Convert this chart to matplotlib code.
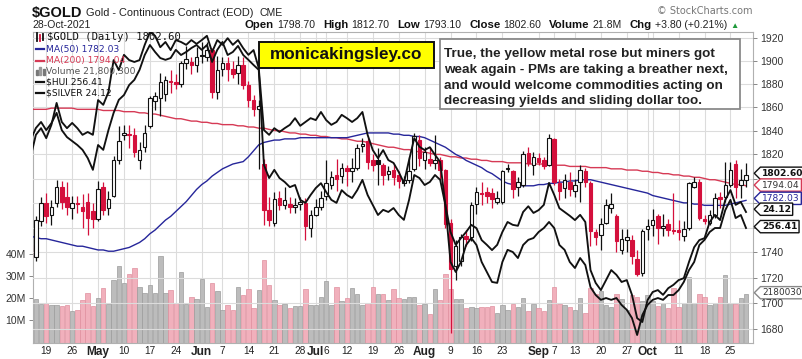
import numpy as np
import pandas as pd
import matplotlib
matplotlib.use("Agg")
import matplotlib.pyplot as plt
from matplotlib.path import Path
from matplotlib.lines import Line2D
from matplotlib.patches import Rectangle
from matplotlib.ticker import FixedLocator, NullLocator
import matplotlib.transforms as mtrans

plt.rcParams['font.family'] = ['Liberation Sans', 'DejaVu Sans']

# ---------------- data ----------------
holidays = ['2021-05-31', '2021-07-05', '2021-09-06']
dates = pd.bdate_range('2021-04-14', '2021-10-28')
dates = dates[~dates.isin(pd.to_datetime(holidays))]

prev_close0 = 1743.0

gold_open = [
    1746, 1736, 1765, 1780, 1770, 1780, 1793, 1785, 1776, 1780, 1777, 1781, 1773,
    1767, 1793, 1776, 1786, 1815, 1836, 1837, 1836, 1815, 1826, 1844, 1865, 1868, 1871, 1882, 1881, 1880, 1898, 1899, 1896,
    1905, 1903, 1909, 1873, 1893, 1898, 1893, 1889, 1896, 1879, 1866, 1858, 1812, 1774, 1764, 1784, 1778, 1779, 1777, 1779, 1780, 1760,
    1770, 1777, 1786, 1795, 1803, 1802, 1809, 1806, 1809, 1827, 1831, 1815, 1815, 1811, 1804, 1807, 1803, 1796, 1799, 1808, 1832,
    1815, 1816, 1813, 1815, 1807, 1764, 1729, 1733, 1753, 1752, 1779, 1788, 1789, 1788, 1781, 1781, 1808, 1806, 1793, 1795, 1821, 1811,
    1817, 1815, 1811, 1833, 1796, 1792, 1797, 1790, 1797, 1806, 1796, 1756, 1754, 1764, 1776, 1769, 1742, 1750, 1750, 1735, 1724,
    1759, 1762, 1769, 1760, 1763, 1758, 1758, 1753, 1760, 1793, 1797, 1767, 1764, 1770, 1785, 1785, 1795, 1812, 1795, 1798.7]
gold_high = [
    1748, 1769, 1785, 1788, 1782, 1799, 1798, 1797, 1786, 1786, 1787, 1788, 1780,
    1798, 1797, 1790, 1819, 1844, 1845, 1845, 1842, 1830, 1845, 1869, 1873, 1889, 1887, 1892, 1888, 1900, 1913, 1903, 1912,
    1916, 1916, 1911, 1904, 1903, 1903, 1900, 1904, 1903, 1882, 1870, 1866, 1816, 1785, 1789, 1790, 1793, 1785, 1784, 1785, 1784, 1774,
    1783, 1790, 1815, 1806, 1816, 1813, 1811, 1817, 1829, 1834, 1834, 1820, 1825, 1813, 1810, 1812, 1806, 1802, 1818, 1838, 1836,
    1826, 1826, 1836, 1818, 1808, 1767, 1750, 1755, 1758, 1781, 1793, 1797, 1793, 1792, 1790, 1807, 1812, 1807, 1801, 1823, 1826, 1822,
    1821, 1818, 1837, 1834, 1800, 1804, 1805, 1800, 1811, 1809, 1798, 1759, 1768, 1783, 1788, 1771, 1759, 1759, 1754, 1742, 1759,
    1767, 1775, 1771, 1771, 1767, 1788, 1766, 1765, 1797, 1801, 1800, 1770, 1774, 1788, 1789, 1814, 1814, 1815, 1808, 1812.7]
gold_low = [
    1733, 1733, 1761, 1764, 1762, 1777, 1775, 1770, 1767, 1772, 1760, 1754, 1760,
    1765, 1770, 1770, 1785, 1812, 1832, 1825, 1818, 1808, 1822, 1842, 1857, 1852, 1865, 1872, 1875, 1877, 1893, 1888, 1890,
    1898, 1900, 1868, 1867, 1887, 1882, 1885, 1880, 1875, 1860, 1852, 1808, 1762, 1761, 1761, 1774, 1775, 1772, 1772, 1774, 1750, 1752,
    1769, 1774, 1782, 1791, 1790, 1796, 1794, 1797, 1807, 1822, 1808, 1806, 1795, 1795, 1799, 1795, 1792, 1794, 1796, 1806, 1810,
    1808, 1810, 1808, 1800, 1760, 1677, 1718, 1729, 1745, 1749, 1771, 1778, 1780, 1776, 1779, 1779, 1805, 1784, 1786, 1793, 1810, 1803,
    1811, 1808, 1810, 1795, 1782, 1784, 1786, 1785, 1781, 1793, 1745, 1746, 1742, 1763, 1772, 1740, 1739, 1740, 1731, 1721, 1721,
    1750, 1753, 1747, 1753, 1753, 1755, 1750, 1749, 1758, 1792, 1766, 1763, 1762, 1768, 1776, 1781, 1793, 1784, 1784, 1793.1]
gold_close = [
    1736, 1766, 1780, 1769, 1777, 1793, 1781, 1777, 1780, 1779, 1773, 1768, 1767,
    1791, 1774, 1783, 1815, 1831, 1838, 1836, 1822, 1824, 1838, 1868, 1869, 1881, 1883, 1881, 1880, 1898, 1901, 1896, 1903,
    1904, 1909, 1873, 1892, 1898, 1893, 1888, 1896, 1879, 1866, 1858, 1861, 1774, 1766, 1783, 1778, 1782, 1777, 1778, 1781, 1761, 1770,
    1777, 1784, 1796, 1801, 1800, 1809, 1806, 1809, 1825, 1829, 1814, 1811, 1812, 1803, 1806, 1801, 1798, 1799, 1806, 1835, 1817,
    1822, 1813, 1815, 1807, 1763, 1727, 1745, 1752, 1751, 1778, 1789, 1787, 1786, 1783, 1784, 1806, 1809, 1791, 1797, 1820, 1813, 1818,
    1814, 1810, 1834, 1797, 1790, 1799, 1791, 1795, 1807, 1797, 1757, 1752, 1763, 1778, 1779, 1749, 1751, 1752, 1737, 1723, 1757,
    1761, 1766, 1760, 1761, 1758, 1757, 1756, 1759, 1796, 1797, 1768, 1765, 1770, 1784, 1783, 1795, 1807, 1793, 1798.8, 1802.6]

volume_m = [
    14.5, 19.5, 17.3, 18, 17, 17, 16.5, 17, 14, 14.5, 19, 22.5, 16.5,
    20, 24.5, 17.5, 28, 34.5, 27, 31, 33.5, 25, 22.5, 26, 22.5, 39, 22.5, 23.5, 18, 31.5, 17.5, 20.5, 19.5,
    28.5, 16, 27, 23, 14.5, 17, 14.5, 25, 21.5, 24, 15.5, 23.5, 37, 26, 19, 17, 17.5, 15.5, 16.5, 16.5, 24, 17,
    17, 20.5, 27.5, 17, 25, 18.5, 20, 24.5, 22, 17, 18, 25, 22, 22, 19, 24, 20, 19.5, 20.5, 20.5, 17,
    17.5, 13, 24, 19, 31, 24, 19.5, 19.5, 15.5, 16, 15.5, 16, 16, 16.5, 13.5, 17, 14.5, 17.5, 16, 20, 14, 17.5,
    15.5, 14, 19, 25, 17.5, 17, 16, 14.5, 20, 13.5, 24.5, 22, 23, 17, 16, 22, 19.5, 14.5, 21.5, 20.5, 18.5,
    21.5, 18.5, 16.5, 18, 15.5, 24.5, 16, 18, 29.5, 18, 22, 20.5, 17, 18, 20.5, 30.3, 18, 17.5, 20, 21.8003]

ma50 = [
    1753, 1752, 1751, 1751, 1750, 1749, 1748, 1747, 1746, 1745, 1745, 1744, 1743, 1742, 1742, 1741,
    1741, 1742, 1743, 1744, 1746, 1748, 1751, 1755, 1758, 1762, 1766, 1769, 1773, 1777, 1781, 1786, 1791, 1795, 1798, 1802,
    1805, 1808, 1810, 1812, 1813, 1814, 1818, 1823, 1828, 1830, 1831, 1832, 1832, 1833, 1833, 1833, 1834, 1834, 1834,
    1834, 1834, 1834, 1834, 1834, 1834, 1834, 1835, 1836, 1837, 1838, 1838, 1838, 1838, 1838, 1837, 1837, 1836, 1836, 1835, 1835, 1834,
    1832, 1830, 1828, 1826, 1823, 1820, 1818, 1815, 1813, 1811, 1809, 1806, 1804, 1801, 1798, 1796, 1795, 1794, 1794,
    1794, 1794, 1795, 1795, 1796, 1796, 1797, 1797, 1798, 1798, 1799, 1799, 1799, 1798, 1797, 1796, 1795, 1794, 1793, 1792, 1791, 1790,
    1789, 1788, 1786, 1785, 1784, 1783, 1782, 1781, 1780, 1780, 1779, 1779, 1778, 1778, 1778, 1778, 1778, 1779, 1780, 1781, 1782.03]
ma200 = [
    1858, 1858, 1858, 1858, 1859, 1859, 1859, 1859, 1859, 1858, 1858, 1858, 1858, 1858, 1857, 1857,
    1857, 1857, 1856, 1856, 1856, 1855, 1855, 1854, 1854, 1853, 1852, 1851, 1850, 1850, 1849, 1848, 1848, 1847, 1847, 1846,
    1846, 1845, 1845, 1845, 1844, 1844, 1843, 1843, 1842, 1842, 1841, 1840, 1840, 1839, 1838, 1838, 1837, 1837, 1836,
    1836, 1835, 1835, 1834, 1834, 1833, 1833, 1832, 1831, 1831, 1830, 1829, 1828, 1827, 1826, 1826, 1825, 1824, 1824, 1823, 1822, 1822,
    1821, 1820, 1820, 1819, 1818, 1818, 1817, 1817, 1816, 1816, 1815, 1815, 1814, 1814, 1814, 1813, 1813, 1813, 1813,
    1812, 1812, 1812, 1812, 1811, 1811, 1811, 1811, 1810, 1810, 1810, 1810, 1809, 1809, 1809, 1809, 1808, 1808, 1808, 1807, 1807, 1807,
    1806, 1806, 1805, 1805, 1804, 1804, 1803, 1803, 1802, 1802, 1801, 1801, 1800, 1799, 1799, 1798, 1797, 1796, 1795, 1795, 1794.04]

silver = [
    25.28, 25.74, 25.88, 25.67, 25.95, 26.41, 26.01, 25.88, 25.99, 25.88, 25.74, 25.80, 25.74,
    26.47, 26.37, 26.64, 27.31, 27.10, 27.42, 27.31, 27.27, 27.31, 27.63, 27.90, 27.82, 27.58, 27.69, 27.52, 27.73, 27.69, 27.63, 27.73, 27.65,
    27.73, 27.82, 27.48, 27.73, 27.63, 27.77, 27.63, 27.73, 27.56, 27.42, 27.52, 27.14, 25.84, 25.74, 25.88, 25.80, 25.88, 25.95, 26.09, 25.93, 26.01, 26.09,
    26.05, 26.22, 26.05, 25.95, 26.01, 26.16, 26.09, 26.01, 26.09, 26.22, 25.74, 25.42, 25.25, 25.42, 25.21, 25.15, 24.96, 24.73, 25.21, 25.67, 25.49,
    25.42, 25.48, 25.32, 25.17, 24.27, 23.70, 23.43, 23.57, 23.70, 23.85, 23.78, 23.53, 23.43, 23.32, 23.43, 23.70, 23.91, 23.85, 23.83, 24.12, 24.24, 24.10,
    24.16, 24.27, 24.73, 24.48, 24.20, 24.12, 24.04, 23.95, 24.06, 23.91, 22.90, 22.63, 22.48, 22.69, 22.90, 22.80, 22.65, 22.69, 22.38, 21.89, 21.81,
    22.27, 22.44, 22.48, 22.38, 22.52, 22.59, 22.69, 22.73, 23.07, 23.38, 23.53, 23.57, 23.91, 24.06, 23.95, 24.37, 24.58, 24.27, 24.33, 24.12]
hui = [
    285.5, 289.4, 291.4, 288.7, 291.0, 294.4, 288.7, 286.4, 285.1, 283.8, 282.2, 279.5, 275.6,
    283.8, 282.2, 288.7, 294.4, 298.7, 300.3, 303.6, 305.3, 308.6, 313.5, 316.8, 314.5, 312.5, 311.9, 312.5, 315.2, 313.5, 314.5, 315.8, 316.8,
    315.2, 316.8, 311.2, 315.2, 317.8, 313.5, 314.5, 316.5, 313.5, 311.9, 310.2, 308.6, 277.2, 272.9, 275.6, 272.9, 271.6, 269.9, 270.6, 265.7, 264.7, 267.3,
    269.6, 271.2, 268.3, 265.7, 264.7, 268.9, 267.3, 266.3, 268.9, 272.3, 267.3, 264.0, 260.7, 262.4, 261.7, 263.0, 260.7, 259.1, 265.7, 273.9, 272.9,
    270.6, 271.6, 273.9, 272.3, 264.0, 245.2, 241.9, 245.2, 250.8, 253.1, 250.8, 245.2, 241.9, 238.6, 238.3, 245.2, 249.2, 248.5, 246.5, 250.8, 252.5, 253.1,
    255.1, 256.4, 258.4, 256.4, 250.8, 249.2, 245.2, 243.2, 246.5, 244.2, 236.9, 234.3, 232.7, 233.3, 232.7, 233.3, 231.0, 229.4, 226.7, 221.1, 227.7,
    231.0, 232.7, 233.3, 232.7, 234.3, 234.3, 235.9, 238.6, 242.5, 245.2, 250.8, 252.5, 255.1, 256.4, 256.4, 262.3, 265.7, 259.7, 260.7, 256.41]

tick_days = ['2021-04-19', '2021-04-26', '2021-05-03', '2021-05-10', '2021-05-17', '2021-05-24',
             '2021-06-01', '2021-06-07', '2021-06-14', '2021-06-21', '2021-06-28', '2021-07-01',
             '2021-07-06', '2021-07-12', '2021-07-19', '2021-07-26', '2021-08-02', '2021-08-09',
             '2021-08-16', '2021-08-23', '2021-09-01', '2021-09-07', '2021-09-13', '2021-09-20',
             '2021-09-27', '2021-10-01', '2021-10-04', '2021-10-11', '2021-10-18', '2021-10-25']
tick_text = ['19', '26', 'May', '10', '17', '24', 'Jun', '7', '14', '21', '28', 'Jul', '6', '12',
             '19', '26', 'Aug', '9', '16', '23', 'Sep', '7', '13', '20', '27', 'Oct', '', '11', '18', '25']
month_names = {'May', 'Jun', 'Jul', 'Aug', 'Sep', 'Oct'}

price_ticks = [1680, 1700, 1720, 1740, 1760, 1780, 1800, 1820, 1840, 1860, 1880, 1900, 1920]
price_labels_shown = [1680, 1700, 1720, 1740, 1820, 1840, 1860, 1880, 1900, 1920]
volume_ticks = [10, 20, 30, 40]

note = ["True, the yellow metal rose but miners got",
        "weak again - PMs are taking a breather next,",
        "and would welcome commodities acting on",
        "decreasing yields and sliding dollar too."]

# ---------------- styling ----------------
W, H, DPI = 803, 359, 100
RED = '#d4103c'
BLACK = '#111111'
MA50_C = '#26269a'
MA200_C = '#d63a55'
PINK, PINK_E = '#f1b0bc', '#e0909f'
GREY, GREY_E = '#bcbcbc', '#9c9c9c'
GRID = '#dcdcdc'

n = len(dates)
for arr in (gold_open, gold_high, gold_low, gold_close, volume_m, ma50, ma200, silver, hui):
    assert len(arr) == n, (len(arr), n)

fig = plt.figure(figsize=(W / DPI, H / DPI), dpi=DPI)
fig.patch.set_facecolor('white')


def fx(x):
    return x / W


def fy(y):
    return 1 - y / H


rect = [fx(32.5), fy(342.7), (753 - 32.5) / W, (342.7 - 31.7) / H]
axv = fig.add_axes(rect)
ax = fig.add_axes(rect, sharex=axv)
axh = fig.add_axes(rect, sharex=axv)
axs = fig.add_axes(rect, sharex=axv)

x = np.arange(n)
o = np.asarray(gold_open, float)
hi = np.asarray(gold_high, float)
lo = np.asarray(gold_low, float)
c = np.asarray(gold_close, float)
prev = np.concatenate([[prev_close0], c[:-1]])
up = c >= prev
col = np.where(up, BLACK, RED)
face = np.where(c > o, 'white', col)

# volume
axv.bar(x, volume_m, width=0.86, color=np.where(up, GREY, PINK),
        edgecolor=np.where(up, GREY_E, PINK_E), linewidth=0.5, zorder=2)
axv.set_ylim(0, 139.5)
axv.set_xlim(0.35, n + 0.35)
axv.set_yticks(volume_ticks)
axv.set_yticklabels([f'{v}M' for v in volume_ticks])
axv.tick_params(axis='y', length=3, width=0.7, color='#888', pad=2, labelsize=7.5, labelcolor='#333')
kpos = [dates.get_loc(pd.Timestamp(d)) for d in tick_days]
axv.set_xticks(kpos)
axv.set_xticklabels(tick_text)
axv.tick_params(axis='x', length=0, pad=2.5, labelsize=7.3, labelcolor='#222')
for lab in axv.get_xticklabels():
    if lab.get_text() in month_names:
        lab.set_fontweight('bold')
        lab.set_fontsize(8.6)
axv.grid(axis='x', color=GRID, lw=0.8)
axv.set_axisbelow(True)
for sp in axv.spines.values():
    sp.set_color('#b0b0b0')
    sp.set_linewidth(0.8)

# price
ax.patch.set_visible(False)
ax.set_yscale('log')
ax.set_ylim(1669.5, 1925.3)
ax.yaxis.set_major_locator(FixedLocator(price_ticks))
ax.yaxis.set_minor_locator(NullLocator())
ax.set_yticklabels([str(p) if p in price_labels_shown else '' for p in price_ticks])
ax.yaxis.tick_right()
ax.tick_params(axis='y', which='both', length=3, width=0.7, color='#888', pad=2,
               labelsize=7.5, labelcolor='#333')
ax.tick_params(axis='x', bottom=False, labelbottom=False)
ax.grid(axis='y', color=GRID, lw=0.8)
ax.set_axisbelow(True)
for sp in ax.spines.values():
    sp.set_visible(False)

ax.plot(x, ma200, color=MA200_C, lw=1.0, zorder=2)
ax.plot(x, ma50, color=MA50_C, lw=1.0, zorder=2)
ax.vlines(x, lo, hi, colors=col, lw=0.9, zorder=3)
body_lo = np.minimum(o, c)
body_h = np.maximum(np.abs(c - o), 0.8)
ax.bar(x, body_h, bottom=body_lo, width=0.68, color=face, edgecolor=col, linewidth=0.8, zorder=4)

# overlays
for a, data, lim in ((axh, hui, (218.56, 321.19)), (axs, silver, (21.375, 27.906))):
    a.plot(x, data, color=BLACK, lw=1.35, solid_joinstyle='round')
    a.set_ylim(*lim)
    a.axis('off')

# ---------------- text ----------------
renderer = fig.canvas.get_renderer()


def chain(items, x0, base):
    xp = x0
    for txt, kw, gap in items:
        t = fig.text(fx(xp), fy(base), txt, va='baseline', ha='left', **kw)
        xp += t.get_window_extent(renderer=renderer).width + gap


chain([('$GOLD', dict(fontsize=10.5, fontweight='bold', color=BLACK), 4),
       ('Gold - Continuous Contract (EOD)', dict(fontsize=7.9, color='#222'), 5),
       ('CME', dict(fontsize=7.6, color='#222'), 0)], 32, 16.5)
fig.text(fx(32), fy(28), dates[-1].strftime('%d-%b-%Y'), fontsize=7.5, color='#222', va='baseline')

chg = c[-1] - c[-2]
B = dict(fontsize=8.2, fontweight='bold', color=BLACK)
R = dict(fontsize=7.6, color='#222')
chain([('Open', B, 3), (f'{o[-1]:.2f}', R, 8), ('High', B, 3), (f'{hi[-1]:.2f}', R, 8),
       ('Low', B, 3), (f'{lo[-1]:.2f}', R, 8), ('Close', B, 3), (f'{c[-1]:.2f}', R, 8),
       ('Volume', B, 3), (f'{volume_m[-1]:.1f}M', R, 8), ('Chg', B, 3),
       (f'{chg:+.2f} ({chg / c[-2] * 100:+.2f}%)', R, 3),
       ('\u25b2', dict(fontsize=6, color='#1f9a3a'), 0)], 245, 28)
fig.text(fx(753), fy(11), '\u00a9 StockCharts.com', fontsize=7, color='#777',
         family='DejaVu Sans', ha='right', va='center')

# legend
fig.text(fx(47), fy(37), f'$GOLD (Daily) {c[-1]:.2f}', fontsize=7.6, family='DejaVu Sans Mono',
         color=BLACK, va='center')
leg = [(f'MA(50) {ma50[-1]:.2f}', MA50_C, 49.2),
       (f'MA(200) {ma200[-1]:.2f}', MA200_C, 60.5),
       (f'Volume {int(round(volume_m[-1] * 1e6)):,}', '#555555', 71.7),
       (f'$HUI {hui[-1]:.2f}', BLACK, 82.2),
       (f'$SILVER {silver[-1]:.2f}', BLACK, 92.8)]
for txt, cc, yy in leg:
    fig.text(fx(46), fy(yy), txt, fontsize=6.6, family='DejaVu Sans', color=cc, va='center')
    if not txt.startswith('Volume'):
        fig.add_artist(Line2D([fx(36), fx(44)], [fy(yy), fy(yy)], color=cc, lw=1.6,
                              transform=fig.transFigure))
for xb, hb, cb in ((36.5, 5, '#777'), (39.5, 8, '#999'), (42.5, 6, '#777')):
    fig.add_artist(Rectangle((fx(xb), fy(75)), 2 / W, hb / H, color=cb, transform=fig.transFigure))
for xb, y0, y1, cb in ((37, 33, 41, BLACK), (40, 34.5, 40.5, RED), (43, 33.5, 40, BLACK)):
    fig.add_artist(Line2D([fx(xb), fx(xb)], [fy(y0), fy(y1)], color=cb, lw=1.3,
                          transform=fig.transFigure))

# promo box
fig.add_artist(Rectangle((fx(259), fy(68)), 175 / W, 26.5 / H, facecolor='#ffff00',
                         edgecolor=BLACK, lw=1.4, transform=fig.transFigure, zorder=5))
fig.text(fx(346.5), fy(55), 'monicakingsley.co', fontsize=12.3, fontweight='bold',
         color=BLACK, ha='center', va='center', zorder=6)

# comment box
fig.add_artist(Rectangle((fx(440), fy(109)), 300 / W, 70 / H, facecolor='white',
                         edgecolor='#8a8a8a', lw=1.3, transform=fig.transFigure, zorder=5))
for line, base in zip(note, (57.5, 73, 88.5, 104)):
    fig.text(fx(444), fy(base), line, fontsize=9.7, fontweight='bold', color='#222',
             va='baseline', ha='left', zorder=6)


# right-hand value tags
def tag_box(x0, y0, width, height, mutation_size):
    pad = 0.18 * mutation_size
    x0, y0, width, height = x0 - pad, y0 - pad, width + 2 * pad, height + 2 * pad
    tip = 0.5 * height
    verts = [(x0 - tip, y0 + height / 2), (x0, y0), (x0 + width, y0), (x0 + width, y0 + height),
             (x0, y0 + height), (x0 - tip, y0 + height / 2)]
    return Path(verts, closed=True)


def tag(a, value, text, ec, tc, bold, dy, size=6.6):
    tr = mtrans.blended_transform_factory(a.transAxes, a.transData)
    a.annotate(text, xy=(1, value), xycoords=tr, xytext=(6.5, dy), textcoords='offset points',
               fontsize=size, family='DejaVu Sans', fontweight='bold' if bold else 'normal',
               color=tc, va='center', ha='left', annotation_clip=False,
               bbox=dict(boxstyle=tag_box, fc='white', ec=ec, lw=1.0))


tag(ax, c[-1], f'{c[-1]:.2f}', BLACK, BLACK, True, 1.5)
tag(ax, ma200[-1], f'{ma200[-1]:.2f}', MA200_C, '#333', False, 0.5)
tag(ax, ma50[-1], f'{ma50[-1]:.2f}', MA50_C, MA50_C, False, 1.5)
tag(axs, silver[-1], f'{silver[-1]:.2f}', BLACK, BLACK, True, 2)
tag(axh, hui[-1], f'{hui[-1]:.2f}', BLACK, BLACK, True, 1)
# the chart's volume tag only has room for seven digits
tag(axv, volume_m[-1], str(int(round(volume_m[-1] * 1e6)))[:7], '#888', '#333', False, 1, size=6.4)

fig.savefig('out.png', dpi=DPI)
